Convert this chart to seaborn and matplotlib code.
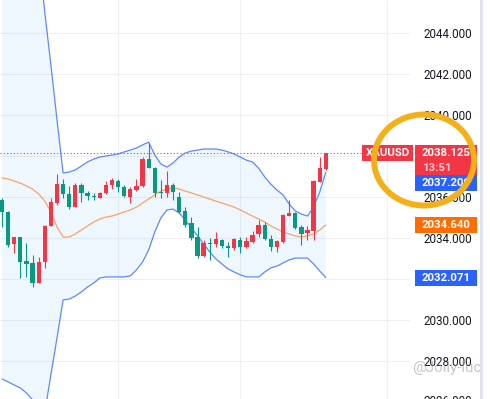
import numpy as np
import pandas as pd
import seaborn as sns
import matplotlib.pyplot as plt
import matplotlib.transforms as mtransforms
from matplotlib.patches import Rectangle, Ellipse

# XAUUSD candles, values (red = up, green = down)
opens = [2035.85, 2035.27, 2033.71, 2034.05, 2032.88, 2032.78, 2031.80, 2032.83, 2034.59, 2035.71,
         2036.63, 2036.15, 2035.51, 2036.59, 2036.20, 2036.05, 2035.95, 2036.20, 2036.59, 2036.78,
         2036.49, 2036.00, 2036.34, 2036.54, 2037.85, 2037.41, 2036.24, 2036.20, 2036.59, 2036.00,
         2035.32, 2034.73, 2034.05, 2033.12, 2033.76, 2033.71, 2033.90, 2033.61, 2033.51, 2033.90,
         2033.56, 2033.80, 2034.20, 2034.63, 2033.95, 2033.56, 2033.80, 2035.07, 2035.22, 2034.54,
         2034.24, 2034.34, 2036.73, 2037.37]
highs = [2035.95, 2035.32, 2034.05, 2034.05, 2033.76, 2033.17, 2033.07, 2034.63, 2035.95, 2037.12,
         2036.88, 2036.54, 2036.68, 2036.68, 2036.29, 2036.20, 2036.24, 2036.78, 2036.93, 2036.88,
         2036.59, 2036.49, 2036.88, 2037.95, 2038.63, 2037.46, 2036.83, 2037.27, 2036.68, 2036.24,
         2035.51, 2035.02, 2034.54, 2033.90, 2034.00, 2034.29, 2033.95, 2033.80, 2034.00, 2034.05,
         2034.05, 2034.34, 2034.88, 2034.78, 2034.15, 2033.90, 2035.17, 2035.85, 2035.27, 2034.63,
         2034.59, 2036.83, 2037.95, 2038.125]
lows = [2034.54, 2033.56, 2033.27, 2032.05, 2032.10, 2031.61, 2031.80, 2032.54, 2034.59, 2035.61,
        2035.95, 2035.41, 2035.51, 2035.76, 2035.85, 2035.85, 2035.95, 2036.15, 2036.39, 2036.24,
        2036.00, 2035.71, 2036.29, 2036.49, 2037.41, 2036.00, 2035.95, 2036.00, 2035.85, 2035.22,
        2034.54, 2033.90, 2033.02, 2033.07, 2032.93, 2033.56, 2033.51, 2033.07, 2033.41, 2033.27,
        2033.51, 2033.76, 2034.05, 2033.90, 2033.37, 2033.32, 2033.76, 2035.07, 2034.44, 2033.66,
        2033.90, 2033.90, 2036.73, 2037.32]
closes = [2035.27, 2033.66, 2034.05, 2032.83, 2032.73, 2031.80, 2032.83, 2034.59, 2035.76, 2036.63,
          2036.15, 2035.51, 2036.59, 2036.20, 2036.05, 2036.00, 2036.20, 2036.59, 2036.83, 2036.49,
          2036.05, 2036.39, 2036.54, 2037.85, 2037.41, 2036.20, 2036.20, 2036.59, 2036.24, 2035.27,
          2034.63, 2034.00, 2033.12, 2033.76, 2033.71, 2033.95, 2033.61, 2033.51, 2033.95, 2033.56,
          2033.85, 2034.15, 2034.63, 2033.95, 2033.56, 2033.85, 2035.12, 2035.22, 2034.49, 2034.20,
          2034.39, 2036.78, 2037.41, 2038.125]

# Bollinger bands
bb_upper = [2060.2, 2059.3, 2057.8, 2055.4, 2052.9, 2050.5, 2047.8, 2045.02, 2042.44, 2039.76,
            2037.17, 2037.22, 2037.32, 2037.51, 2037.71, 2037.85, 2037.95, 2038.00, 2038.05, 2038.10,
            2038.20, 2038.29, 2038.39, 2038.54, 2038.68, 2038.05, 2037.61, 2037.46, 2037.66, 2037.95,
            2038.15, 2038.24, 2038.29, 2038.34, 2038.34, 2038.34, 2038.29, 2038.20, 2038.10, 2037.95,
            2037.80, 2037.71, 2037.41, 2036.98, 2036.63, 2036.34, 2036.10, 2035.66, 2035.32, 2035.17,
            2035.07, 2035.51, 2036.24, 2037.209]
bb_lower = [2027.12, 2026.98, 2026.83, 2026.68, 2026.44, 2026.10, 2024.88, 2025.51, 2027.32, 2029.12,
            2030.98, 2031.02, 2031.17, 2031.37, 2031.61, 2031.80, 2032.05, 2032.10, 2032.10, 2032.10,
            2032.10, 2032.15, 2032.44, 2032.83, 2033.41, 2034.29, 2034.98, 2035.37, 2035.41, 2035.22,
            2034.88, 2034.49, 2034.10, 2033.71, 2033.32, 2032.98, 2032.73, 2032.49, 2032.34, 2032.20,
            2032.10, 2032.10, 2032.10, 2032.34, 2032.54, 2032.63, 2032.78, 2032.93, 2033.02, 2033.02,
            2033.02, 2032.73, 2032.39, 2032.071]
bb_basis = [2036.93, 2036.88, 2036.78, 2036.68, 2036.54, 2036.39, 2036.15, 2035.80, 2035.27, 2034.54,
            2034.05, 2034.05, 2034.20, 2034.39, 2034.59, 2034.78, 2034.93, 2035.02, 2035.07, 2035.17,
            2035.27, 2035.37, 2035.51, 2035.71, 2035.90, 2036.10, 2036.29, 2036.39, 2036.44, 2036.39,
            2036.29, 2036.20, 2036.10, 2036.00, 2035.90, 2035.80, 2035.71, 2035.61, 2035.51, 2035.37,
            2035.22, 2035.07, 2034.93, 2034.78, 2034.59, 2034.44, 2034.29, 2034.20, 2034.10, 2034.05,
            2034.10, 2034.20, 2034.39, 2034.64]

price_ticks = [2028, 2030, 2032, 2034, 2036, 2038, 2040, 2042, 2044]
time_grid = [19, 39, 63]
symbol = "XAUUSD"
countdown = "13:51"
watermark = "@Jolly-luo"

RED = "#F23645"
GREEN = "#089981"
BLUE = "#2962FF"
ORANGE = "#FF6D00"

sns.set_theme(style="white")
plt.rcParams['font.family'] = ['Roboto', 'DejaVu Sans']

W, H = 490, 399
AX_W = 410
fig = plt.figure(figsize=(W / 100, H / 100), dpi=100)
fig.patch.set_facecolor("white")
ax = fig.add_axes([0, 0, AX_W / W, 1])
ymin, ymax = 2026.146, 2045.61
ax.set_ylim(ymin, ymax)
ax.set_xlim(-0.33, 66.78)
ppu = H / (ymax - ymin)  # pixels per price unit

# grid + right price scale
ax.set_yticks(price_ticks)
ax.set_yticklabels([f"{t:.3f}" for t in price_ticks])
ax.yaxis.tick_right()
ax.set_xticks(time_grid)
ax.set_xticklabels([])
ax.tick_params(axis="both", length=0)
ax.tick_params(axis="y", pad=9.4, labelsize=8.4, labelcolor="#131722")
ax.grid(True, color="#eef0f4", lw=0.8)
sns.despine(ax=ax, left=True, bottom=True)
tr = mtransforms.blended_transform_factory(ax.transAxes, ax.transData)
ax.text(423 / AX_W, 2026, "2026.000", transform=tr, fontsize=8.4, color="#131722",
        va="center", ha="left", clip_on=False)

idx = np.arange(len(opens))
df = pd.DataFrame({"idx": idx, "open": opens, "high": highs, "low": lows, "close": closes,
                   "upper": bb_upper, "lower": bb_lower, "basis": bb_basis})

# band fill and lines
ax.fill_between(df["idx"], df["lower"], df["upper"], color="#2196F3", alpha=0.07, lw=0, zorder=1)
sns.lineplot(data=df, x="idx", y="upper", ax=ax, color=BLUE, lw=0.9, alpha=0.75, zorder=2)
sns.lineplot(data=df, x="idx", y="lower", ax=ax, color=BLUE, lw=0.9, alpha=0.75, zorder=2)
sns.lineplot(data=df, x="idx", y="basis", ax=ax, color=ORANGE, lw=0.9, alpha=0.6, zorder=2)
ax.set_xlabel("")
ax.set_ylabel("")

# candles
up = df["close"] >= df["open"]
cols = np.where(up, RED, GREEN)
body_lo = np.minimum(df["open"], df["close"])
body_h = np.maximum((df["close"] - df["open"]).abs(), 0.06)
ax.vlines(df["idx"], df["low"], df["high"], colors=cols, lw=0.8, zorder=3)
ax.bar(df["idx"], body_h, bottom=body_lo, width=0.7, color=cols, lw=0, zorder=4)

# last price line
last = closes[-1]
ax.axhline(last, xmin=0, xmax=362 / AX_W, color=RED, lw=0.8, ls=(0, (1, 2)), zorder=2)


def box(x0, w, top, h, color):
    ax.add_patch(Rectangle((x0 / AX_W, top - h / ppu), w / AX_W, h / ppu, transform=tr,
                           facecolor=color, lw=0, clip_on=False, zorder=6))


def label(x, y, s, ha="left", color="white", alpha=1.0):
    ax.text(x / AX_W, y, s, transform=tr, ha=ha, va="center", fontsize=8.2,
            fontweight="bold", color=color, alpha=alpha, clip_on=False, zorder=7)


top_last = last + 8 / ppu
box(362, 51, top_last, 16, RED)
label(387.5, last, symbol, ha="center")
box(415, 62, top_last, 30, RED)
label(422, last, f"{last:.3f}")
label(422, last - 15 / ppu, countdown, alpha=0.75)
up_top = top_last - 30 / ppu
box(415, 62, up_top, 16, BLUE)
label(422, up_top - 8 / ppu, f"{bb_upper[-1]:.3f}")
box(415, 62, bb_basis[-1] + 8 / ppu, 16, ORANGE)
label(422, bb_basis[-1], f"{bb_basis[-1]:.3f}")
box(415, 62, bb_lower[-1] + 8 / ppu, 16, BLUE)
label(422, bb_lower[-1], f"{bb_lower[-1]:.3f}")

# overlay: hand-drawn ring, watermark, window edge
ov = fig.add_axes([0, 0, 1, 1], zorder=10)
ov.set_xlim(0, W)
ov.set_ylim(H, 0)
ov.axis("off")
ov.patch.set_alpha(0)
ov.add_patch(Ellipse((424, 160), 100, 91, fill=False, ec="#f4b018", lw=4.3, zorder=5))
ov.text(412, 368, watermark, fontsize=11, color="#9a9a9a", alpha=0.55, va="center",
        ha="left", zorder=3)
ov.add_patch(Rectangle((480, 0), 3, H, facecolor="#e0e3eb", lw=0, zorder=6))
ov.add_patch(Rectangle((483, 0), 7, H, facecolor="white", lw=0, zorder=6))

fig.savefig("out.png", dpi=100)
